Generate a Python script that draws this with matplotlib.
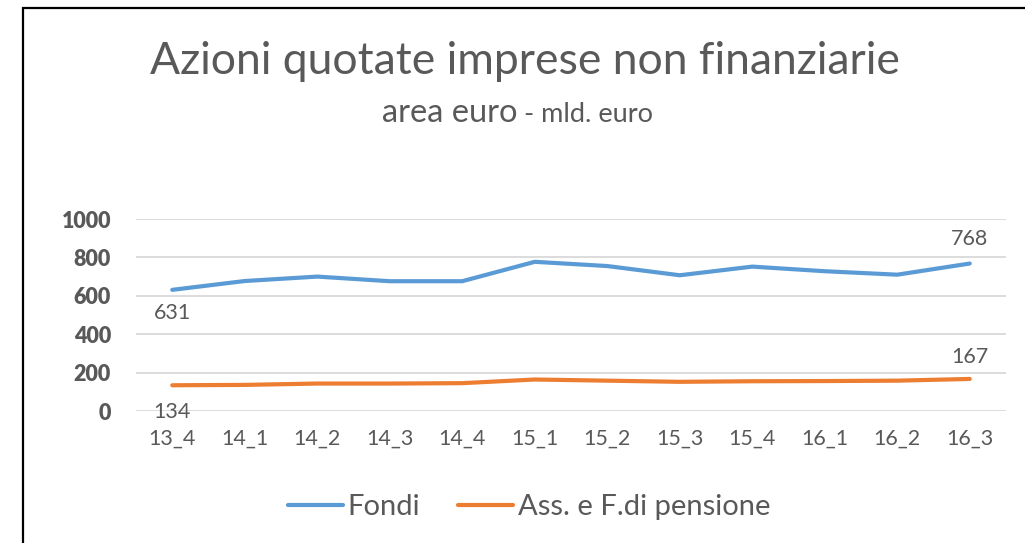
import matplotlib.pyplot as plt
from matplotlib.patches import Rectangle

plt.rcParams['font.family'] = ['Lato', 'DejaVu Sans']

# dati
trimestri = ["13_4", "14_1", "14_2", "14_3", "14_4", "15_1", "15_2", "15_3", "15_4", "16_1", "16_2", "16_3"]
fondi = [631, 677, 700, 676, 676, 777, 755, 707, 752, 728, 710, 768]
pensione = [134, 136, 143, 143, 145, 164, 158, 152, 155, 156, 158, 167]

blu = "#5B9BD5"
arancio = "#ED7D31"
grigio = "#595959"

fig = plt.figure(figsize=(10.25, 5.43), dpi=100)
ax = fig.add_axes([136/1025, 1 - 411/543, 870/1025, 192/543])

x = range(len(trimestri))
ax.plot(x, fondi, color=blu, lw=3, solid_capstyle="round", label="Fondi")
ax.plot(x, pensione, color=arancio, lw=3, solid_capstyle="round", label="Ass. e F.di pensione")

# etichette primo/ultimo valore
ax.annotate(str(fondi[0]), (0, fondi[0]), xytext=(0, -17), textcoords="offset points",
            ha="center", va="center", fontsize=15.5, color=grigio)
ax.annotate(str(fondi[-1]), (11, fondi[-1]), xytext=(0, 18), textcoords="offset points",
            ha="center", va="center", fontsize=15.5, color=grigio)
ax.annotate(str(pensione[0]), (0, pensione[0]), xytext=(0, -19), textcoords="offset points",
            ha="center", va="center", fontsize=15.5, color=grigio)
ax.annotate(str(pensione[-1]), (11, pensione[-1]), xytext=(0, 16), textcoords="offset points",
            ha="center", va="center", fontsize=15.5, color=grigio)

ax.set_xlim(-0.5, len(trimestri) - 0.5)
ax.set_ylim(0, 1000)
ax.set_yticks([0, 200, 400, 600, 800, 1000])
ax.set_xticks(list(x))
ax.set_xticklabels(trimestri)
ax.tick_params(axis="y", length=0, pad=18, labelsize=15.5, labelcolor=grigio)
ax.tick_params(axis="x", length=0, pad=13, labelsize=15.5, labelcolor=grigio)
for lab in ax.get_yticklabels():
    lab.set_fontweight("heavy")
ax.grid(axis="y", color="#D9D9D9", lw=1.3)
ax.set_axisbelow(True)
for s in ax.spines.values():
    s.set_visible(False)

# titolo
fig.text(0.512, 1 - 62/543, "Azioni quotate imprese non finanziarie", ha="center", va="center",
         fontsize=32, color=grigio)
fig.text(517/1025, 1 - 122/543, "area euro", ha="right", va="baseline", fontsize=23.5, color=grigio)
fig.text(517/1025, 1 - 122/543, " - mld. euro", ha="left", va="baseline", fontsize=19.5, color=grigio)

fig.legend(loc="center", bbox_to_anchor=(0.516, 1 - 507/543), ncol=2, frameon=False,
           fontsize=21, handlelength=1.9, handletextpad=0.15, columnspacing=1.3,
           labelcolor=grigio)

# cornice
fig.patches.append(Rectangle((23/1025, -0.05), 1.1, 1 - 8/543 + 0.05, transform=fig.transFigure,
                             fill=False, edgecolor="black", lw=1.6))

fig.savefig("out.png", dpi=100)
